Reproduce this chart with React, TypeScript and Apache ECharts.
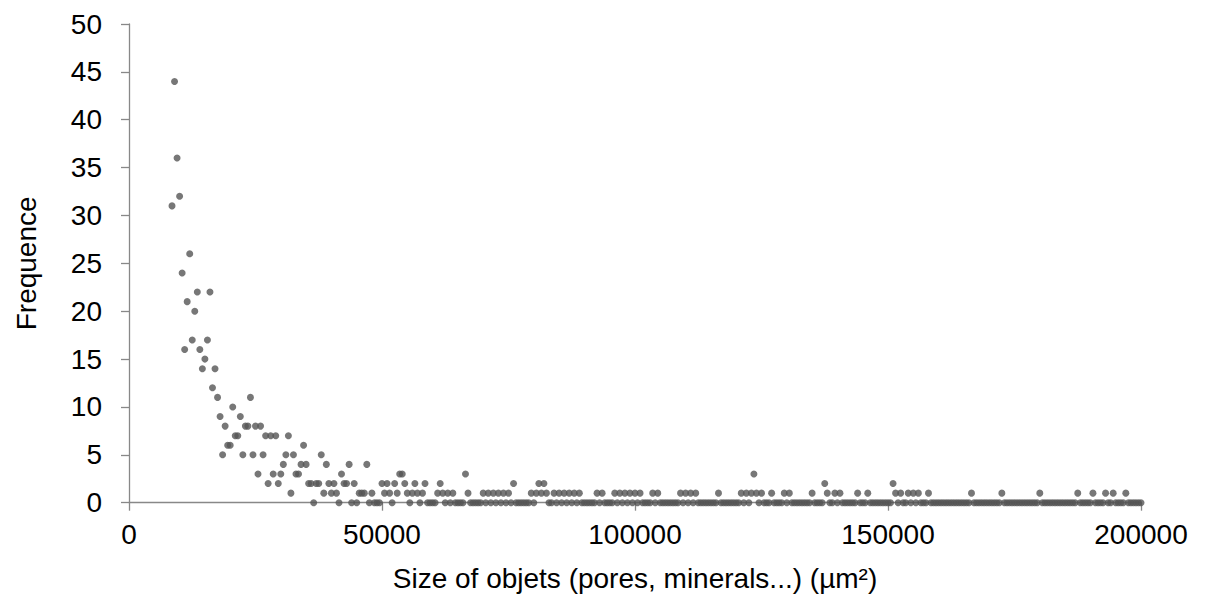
import React, { useEffect, useRef } from "react";
import * as echarts from "echarts";

const binStart = 8500;
const binWidth = 500;

const frequencies: number[] = [
  31, 44, 36, 32, 24, 16, 21, 26, 17, 20, 22, 16, 14, 15, 17, 22, 12, 14, 11, 9,
  5, 8, 6, 6, 10, 7, 7, 9, 5, 8, 8, 11, 5, 8, 3, 8, 5, 7, 2, 7,
  3, 7, 2, 3, 4, 5, 7, 1, 5, 3, 3, 4, 6, 4, 2, 2, 0, 2, 2, 5,
  1, 4, 2, 1, 2, 1, 0, 3, 2, 2, 4, 0, 2, 0, 1, 1, 1, 4, 0, 1,
  0, 0, 0, 2, 1, 2, 1, 0, 2, 1, 3, 3, 2, 1, 0, 1, 2, 1, 0, 1,
  2, 0, 0, 0, 0, 1, 2, 1, 0, 1, 0, 1, 0, 0, 0, 0, 3, 1, 0, 0,
  0, 0, 0, 1, 0, 1, 0, 1, 0, 1, 0, 1, 0, 1, 0, 2, 0, 0, 0, 0,
  0, 0, 1, 0, 1, 2, 1, 2, 1, 0, 0, 1, 0, 1, 0, 1, 0, 1, 0, 1,
  0, 1, 0, 0, 0, 0, 0, 0, 1, 0, 1, 0, 0, 0, 0, 1, 0, 1, 0, 1,
  0, 1, 0, 1, 0, 1, 0, 0, 0, 0, 1, 0, 1, 0, 0, 0, 0, 0, 0, 0,
  0, 1, 0, 1, 0, 1, 0, 1, 0, 0, 0, 0, 0, 0, 0, 0, 1, 0, 0, 0,
  0, 0, 0, 0, 0, 1, 0, 1, 0, 1, 3, 1, 0, 1, 0, 0, 0, 1, 0, 0,
  0, 0, 1, 0, 1, 0, 0, 0, 0, 0, 0, 0, 0, 1, 0, 0, 0, 0, 2, 1,
  0, 0, 1, 0, 1, 0, 0, 0, 0, 0, 0, 1, 0, 0, 0, 1, 0, 0, 0, 0,
  0, 0, 0, 0, 0, 2, 1, 0, 1, 0, 0, 1, 0, 1, 0, 1, 0, 0, 0, 1,
  0, 0, 0, 0, 0, 0, 0, 0, 0, 0, 0, 0, 0, 0, 0, 0, 1, 0, 0, 0,
  0, 0, 0, 0, 0, 0, 0, 0, 1, 0, 0, 0, 0, 0, 0, 0, 0, 0, 0, 0,
  0, 0, 0, 1, 0, 0, 0, 0, 0, 0, 0, 0, 0, 0, 0, 0, 0, 0, 1, 0,
  0, 0, 0, 0, 1, 0, 0, 0, 0, 1, 0, 0, 1, 0, 0, 0, 0, 1, 0, 0,
  0, 0, 0, 0,
];

const xAxisTitle = "Size of objets (pores, minerals...) (µm²)";
const yAxisTitle = "Frequence";

const FONT = "'Liberation Sans', Arial, sans-serif";
const AXIS_COLOR = "#888888";
const DOT_COLOR = "#555555";

export default function App() {
  const ref = useRef<HTMLDivElement>(null);

  useEffect(() => {
    if (!ref.current) return;
    const chart = echarts.init(ref.current, null, { renderer: "svg" });
    const data = frequencies.map((f, i) => [binStart + i * binWidth, f]);
    chart.setOption({
      animation: false,
      backgroundColor: "#ffffff",
      grid: { left: 129, right: 64, top: 24, bottom: 107.3, containLabel: false },
      xAxis: {
        type: "value",
        min: 0,
        max: 200000,
        interval: 50000,
        name: xAxisTitle,
        nameLocation: "middle",
        nameGap: 62,
        nameTextStyle: { fontFamily: FONT, fontSize: 28, color: "#000" },
        axisLine: { show: true, onZero: false, lineStyle: { color: AXIS_COLOR, width: 1.3 } },
        axisTick: { show: true, length: 8, lineStyle: { color: AXIS_COLOR, width: 1.3 } },
        splitLine: { show: false },
        axisLabel: {
          margin: 18,
          fontFamily: FONT,
          fontSize: 28,
          color: "#000",
          formatter: (v: number) => String(v),
        },
      },
      yAxis: {
        type: "value",
        min: 0,
        max: 50,
        interval: 5,
        name: yAxisTitle,
        nameLocation: "middle",
        nameRotate: 90,
        nameGap: 89,
        nameTextStyle: { fontFamily: FONT, fontSize: 28, color: "#000" },
        axisLine: { show: true, onZero: false, lineStyle: { color: AXIS_COLOR, width: 1.3 } },
        axisTick: { show: true, length: 8, lineStyle: { color: AXIS_COLOR, width: 1.3 } },
        splitLine: { show: false },
        axisLabel: {
          margin: 27,
          fontFamily: FONT,
          fontSize: 28,
          color: "#000",
          formatter: (v: number) => String(v),
        },
      },
      series: [
        {
          type: "scatter",
          data,
          symbol: "circle",
          symbolSize: 7,
          itemStyle: { color: DOT_COLOR },
        },
      ],
    });
    return () => chart.dispose();
  }, []);

  return (
    <div
      ref={ref}
      style={{ position: "fixed", left: 0, top: 0, width: 1205, height: 610, background: "#fff" }}
    />
  );
}
